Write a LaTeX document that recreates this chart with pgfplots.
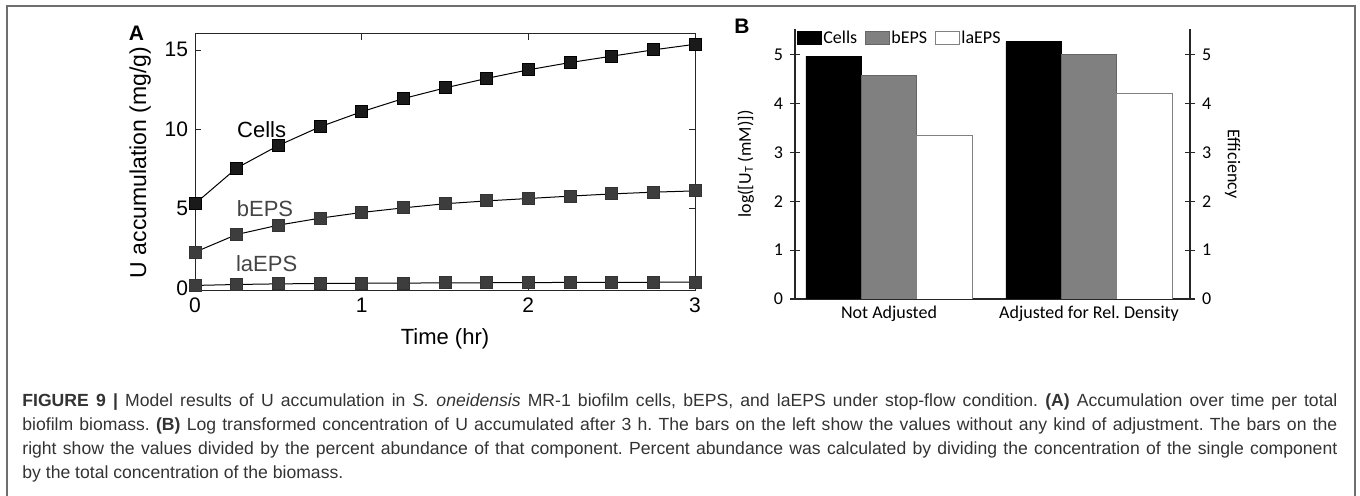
\documentclass[border=0pt]{standalone}
\usepackage{pgfplots}
\pgfplotsset{compat=1.18}
\usepackage{fontspec}
\setmainfont{Liberation Sans}
\newfontfamily\carlito{Carlito}
\definecolor{capcol}{HTML}{333333}
\definecolor{framecol}{HTML}{6E6E6E}
\definecolor{cellsfill}{HTML}{1A1A1A}
\definecolor{epsfill}{HTML}{3D3D3D}
\definecolor{bepsbar}{HTML}{808080}
\definecolor{labgray}{HTML}{444444}
\pgfplotsset{boxlegend/.style={legend image code/.code={\draw[##1] (0pt,-3.25pt) rectangle (12pt,3.25pt);}}}
\begin{document}
\frenchspacing
\begin{tikzpicture}[x=1pt,y=1pt]
\path[use as bounding box] (0,0) rectangle (680,-248);
\draw[framecol, line width=0.7pt] (3.5,-252) -- (3.5,-3) -- (677.5,-3) -- (677.5,-252);

% ---------------- Panel A ----------------
\begin{axis}[
  at={(97.5pt,-145.5pt)}, anchor=south west,
  scale only axis, width=250pt, height=128.5pt,
  xmin=0, xmax=3, ymin=-0.2, ymax=16,
  xtick={0,1,2,3}, ytick={0,5,10,15},
  tick align=inside, major tick length=3pt,
  /pgf/number format/assume math mode=true,
  tick label style={font=\fontsize{10.5}{12}\selectfont},
  xlabel style={font=\fontsize{11}{13}\selectfont, yshift=-1pt},
  ylabel style={font=\fontsize{11.5}{13}\selectfont},
  xlabel={Time (hr)}, ylabel={U accumulation (mg/g)},
  axis line style={black!85, line width=0.5pt}, tick style={black!85},
  clip=false,
]
\addplot[black, line width=0.5pt, mark=square*, mark size=3pt,
  mark options={fill=epsfill, draw=black!80}] coordinates {
(0,0.15) (0.25,0.21) (0.5,0.25) (0.75,0.27) (1,0.29) (1.25,0.30) (1.5,0.31)
(1.75,0.32) (2,0.33) (2.25,0.34) (2.5,0.34) (2.75,0.35) (3,0.36)};
\addplot[black, line width=0.5pt, mark=square*, mark size=3pt,
  mark options={fill=epsfill, draw=black!80}] coordinates {
(0,2.25) (0.25,3.36) (0.5,3.95) (0.75,4.39) (1,4.75) (1.25,5.04) (1.5,5.30)
(1.75,5.48) (2,5.63) (2.25,5.78) (2.5,5.92) (2.75,6.03) (3,6.11)};
\addplot[black, line width=0.5pt, mark=square*, mark size=3pt,
  mark options={fill=cellsfill, draw=black}] coordinates {
(0,5.3) (0.25,7.55) (0.5,8.97) (0.75,10.15) (1,11.1) (1.25,11.93) (1.5,12.6)
(1.75,13.2) (2,13.74) (2.25,14.2) (2.5,14.6) (2.75,15.0) (3,15.35)};
\node[font=\fontsize{11}{13}\selectfont, text=black] at (axis cs:0.40,10) {Cells};
\node[font=\fontsize{11}{13}\selectfont, text=labgray] at (axis cs:0.42,5.0) {bEPS};
\node[font=\fontsize{11}{13}\selectfont, text=labgray] at (axis cs:0.43,1.5) {laEPS};
\end{axis}
\node[font=\bfseries\fontsize{10.5}{12}\selectfont] at (68.25,-16.75) {A};

% ---------------- Panel B (bars) ----------------
\begin{axis}[
  at={(397.5pt,-149.5pt)}, anchor=south west,
  scale only axis, width=197.5pt, height=135pt,
  xmin=-0.47, xmax=1.505, ymin=0, ymax=5.53,
  axis x line*=bottom, axis y line*=left,
  xtick={0,1}, xticklabels={Not Adjusted, Adjusted for Rel. Density},
  x tick style={draw=none},
  xticklabel style={yshift=5pt},
  ytick={0,1,2,3,4,5},
  tick align=center, major tick length=5pt,
  /pgf/number format/assume math mode=true,
  tick label style={font=\carlito\fontsize{9}{11}\selectfont},
  label style={font=\carlito\fontsize{9}{11}\selectfont},
  ylabel={log([U\textsubscript{T} (mM)])}, ylabel shift=3pt,
  axis line style={black!85, line width=0.6pt}, tick style={black!85, line width=0.6pt},
  ybar=0pt, bar width=0.277,
  legend columns=-1,
  legend style={at={(rel axis cs:0.005,1)}, anchor=north west, draw=none, fill=none,
    inner sep=0pt, font=\carlito\fontsize{9}{11}\selectfont,
    nodes={inner sep=0.6pt},
    /tikz/every even column/.append style={column sep=3.5pt}},
]
\addplot[fill=black, draw=black, boxlegend]
  coordinates {(0,4.97) (1,5.27)};
\addplot[fill=bepsbar, draw=black!60, boxlegend]
  coordinates {(0,4.57) (1,5.01)};
\addplot[fill=white, draw=bepsbar, boxlegend]
  coordinates {(0,3.35) (1,4.21)};
\legend{Cells, bEPS, laEPS}
\end{axis}

% ---------------- Panel B (right axis) ----------------
\begin{axis}[
  at={(397.5pt,-149.5pt)}, anchor=south west,
  scale only axis, width=197.5pt, height=135pt,
  xmin=-0.47, xmax=1.505, ymin=0, ymax=5.53,
  axis x line=none, axis y line*=right,
  ytick={0,1,2,3,4,5},
  tick align=center, major tick length=5pt,
  /pgf/number format/assume math mode=true,
  tick label style={font=\carlito\fontsize{9}{11}\selectfont},
  label style={font=\carlito\fontsize{9}{11}\selectfont},
  ylabel={Efficiency}, ylabel style={rotate=180},
  axis line style={black!85, line width=0.6pt}, tick style={black!85, line width=0.6pt},
]
\addplot[draw=none] coordinates {(0,0)};
\end{axis}
\node[font=\bfseries\fontsize{10.5}{12}\selectfont] at (371,-13) {B};

% ---------------- Caption ----------------
\node[anchor=north west, inner sep=0pt, text width=657.5pt, align=justify,
  text=capcol, font=\fontsize{8.8}{12}\selectfont] at (11,-196.5) {%
\textbf{FIGURE 9 |} Model results of U accumulation in \textit{S. oneidensis} MR-1 biofilm cells, bEPS, and laEPS under stop-flow condition. \textbf{(A)} Accumulation over time per total\linebreak
biofilm biomass. \textbf{(B)} Log transformed concentration of U accumulated after 3 h. The bars on the left show the values without any kind of adjustment. The bars on the\linebreak
right show the values divided by the percent abundance of that component. Percent abundance was calculated by dividing the concentration of the single component\linebreak
by the total concentration of the biomass.};
\end{tikzpicture}
\end{document}
